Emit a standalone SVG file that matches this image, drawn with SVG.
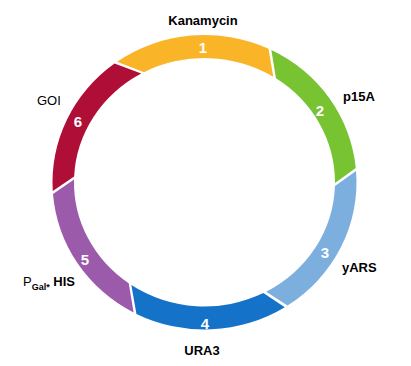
<svg xmlns="http://www.w3.org/2000/svg" width="411" height="366" viewBox="0 0 411 366">
<style>
.num{font-family:"Liberation Sans",Arial,sans-serif;font-weight:bold;font-size:15px;fill:#fff;text-anchor:middle}
.lbl{font-family:"Liberation Sans",Arial,sans-serif;font-weight:bold;font-size:13px;fill:#000}
.reg{font-weight:normal}
</style>
<rect width="411" height="366" fill="#fff"/>
<g id="seg1">
<path d="M117.10,61.78 A152 147.25 0 0 1 268.51,48.69 L273.27,76.69 A130.5 124.2 0 0 0 144.04,72.18 Z" fill="#FAB428"/>
<text class="num" x="203" y="52.5">1</text>
<text class="lbl" x="203" y="25" text-anchor="middle">Kanamycin</text>
</g>
<g id="seg2">
<path d="M271.37,50.02 A152 147.25 0 0 1 355.77,167.88 L335.00,182.90 A130.5 124.2 0 0 0 275.96,78.32 Z" fill="#78C332"/>
<text class="num" x="320" y="115.5">2</text>
<text class="lbl" x="343" y="101">p15A</text>
</g>
<g id="seg3">
<path d="M356.05,170.95 A152 147.25 0 0 1 287.51,305.60 L266.17,291.71 A130.5 124.2 0 0 0 334.94,185.94 Z" fill="#7DAFDE"/>
<text class="num" x="325" y="257.5">3</text>
<text class="lbl" x="342" y="272">yARS</text>
</g>
<g id="seg4">
<path d="M284.82,307.26 A152 147.25 0 0 1 136.44,313.91 L131.33,285.10 A130.5 124.2 0 0 0 263.34,293.11 Z" fill="#1473C8"/>
<text class="num" x="205" y="328.5">4</text>
<text class="lbl" x="202" y="355" text-anchor="middle">URA3</text>
</g>
<g id="seg5">
<path d="M133.61,312.50 A152 147.25 0 0 1 52.99,194.06 L74.03,179.43 A130.5 124.2 0 0 0 128.72,283.36 Z" fill="#9B5AAA"/>
<text class="num" x="85" y="264.5">5</text>
<text class="lbl" x="23" y="286"><tspan class="reg">P</tspan><tspan font-size="9" dy="4">Gal*</tspan><tspan dy="-4"> HIS</tspan></text>
</g>
<g id="seg6">
<path d="M52.77,190.98 A152 147.25 0 0 1 114.51,63.58 L141.23,73.62 A130.5 124.2 0 0 0 74.14,176.40 Z" fill="#AF0F37"/>
<text class="num" x="78" y="126.5">6</text>
<text class="lbl reg" x="37" y="105">GOI</text>
</g>
<g id="connectors"/>
</svg>
